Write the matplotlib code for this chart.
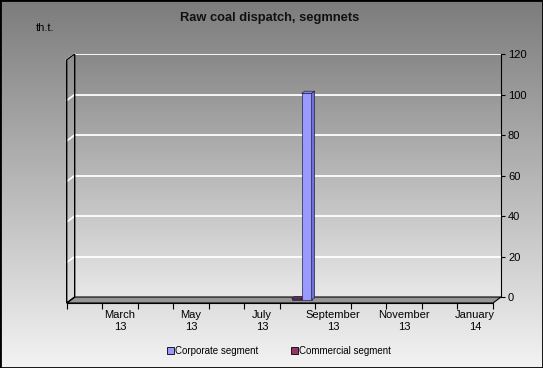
import matplotlib
matplotlib.use("Agg")
import matplotlib.pyplot as plt
import numpy as np
from matplotlib.colors import LinearSegmentedColormap
from matplotlib.patches import Polygon, Rectangle, Patch

plt.rcParams['font.family'] = ['Liberation Sans', 'DejaVu Sans']

# Data: Feb 13 .. Jan 14
months = ['February', 'March', 'April', 'May', 'June', 'July', 'August',
          'September', 'October', 'November', 'December', 'January']
years = ['13', '13', '13', '13', '13', '13', '13', '13', '13', '13', '13', '14']
corporate = [0, 0, 0, 0, 0, 0, 102, 0, 0, 0, 0, 0]
commercial = [0, 0, 0, 0, 0, 0, 0.6, 0, 0, 0, 0, 0]
series_names = ['Corporate segment', 'Commercial segment']
series_colors = ['#9999ff', '#993366']
side_colors = ['#7070d8', '#6e2249']
top_colors = ['#8585ee', '#80294f']
yticks = [0, 20, 40, 60, 80, 100, 120]

n = len(months)
DX = 0.225      # depth offset in category units
DY = 2.96       # depth offset in value units
F0, F1 = 0.5, 0.875
W = 0.28

fig = plt.figure(figsize=(5.43, 3.68), dpi=100)

# background gradient
bg = fig.add_axes([0, 0, 1, 1], zorder=-10)
bg.axis('off')
grad = np.linspace(0, 1, 256).reshape(-1, 1)
bg_cmap = LinearSegmentedColormap.from_list('bg', ['#7c7c7c', '#f3f3f3'])
bg.imshow(grad, cmap=bg_cmap, aspect='auto', extent=[0, 1, 0, 1])

ax = fig.add_axes([66.7 / 543, (368 - 303) / 368, (501 - 66.7) / 543, (303 - 54) / 368])
ax.patch.set_visible(False)

# back wall
wall_cmap = LinearSegmentedColormap.from_list('wall', ['#888888', '#e8e8e8'])
ax.imshow(grad, cmap=wall_cmap, aspect='auto', extent=[DX, n + DX, 0, 120], zorder=0)
ax.hlines(yticks[1:], DX, n + DX, colors='white', lw=1.3, zorder=1)
# gridlines on the side wall
for v in yticks[1:]:
    ax.plot([0, DX], [v - DY, v], color='white', lw=1.3, zorder=1, clip_on=False)

# floor and left wall
ax.add_patch(Polygon([(0, -DY), (n, -DY), (n + DX, 0), (DX, 0)],
                     fc='#959595', ec='black', lw=0.8, zorder=2, clip_on=False))
ax.add_patch(Polygon([(0, -DY), (DX, 0), (DX, 120), (0, 120 - DY)],
                     fc='none', ec='black', lw=1.0, zorder=2, clip_on=False))


def draw_bar(x0, v, k):
    fx = x0 + F0 * DX
    fy = -DY * (1 - F0)
    ddx = (F1 - F0) * DX
    ddy = (F1 - F0) * DY
    ax.bar(fx, v, width=W, bottom=fy, align='edge', color=series_colors[k],
           edgecolor='#222244', lw=0.5, zorder=4)
    top = [(fx, fy + v), (fx + W, fy + v), (fx + W + ddx, fy + v + ddy), (fx + ddx, fy + v + ddy)]
    side = [(fx + W, fy), (fx + W + ddx, fy + ddy), (fx + W + ddx, fy + v + ddy), (fx + W, fy + v)]
    ax.add_patch(Polygon(top, fc=top_colors[k], ec='#222244', lw=0.5, zorder=4))
    ax.add_patch(Polygon(side, fc=side_colors[k], ec='#222244', lw=0.5, zorder=4))


for i in range(n):
    if commercial[i] > 0:
        draw_bar(i + 0.5 - W, commercial[i], 1)
    if corporate[i] > 0:
        draw_bar(i + 0.5, corporate[i], 0)

ax.set_xlim(0, n + DX)
ax.set_ylim(-DY, 120)

for s in ['top', 'left']:
    ax.spines[s].set_visible(False)
ax.spines['bottom'].set_bounds(0, n)
ax.spines['right'].set_bounds(0, 120)
ax.spines['bottom'].set_linewidth(0.8)
ax.spines['right'].set_linewidth(0.8)

ax.yaxis.tick_right()
ax.set_yticks(yticks)
ax.tick_params(axis='y', direction='out', length=3, labelsize=8, pad=2)

ax.set_xticks(np.arange(n + 1))
ax.set_xticklabels([])
ax.set_xticks(np.arange(n)[1::2] + 0.5, minor=True)
ax.set_xticklabels([m + '\n' + y for m, y in zip(months[1::2], years[1::2])], minor=True)
ax.tick_params(axis='x', which='major', direction='out', length=4)
ax.tick_params(axis='x', which='minor', length=0, labelsize=8, pad=5)
for lbl in ax.get_xticklabels(minor=True):
    lbl.set_linespacing(1.3)

fig.text(270 / 543, 1 - 18 / 368, 'Raw coal dispatch, segmnets', ha='center', va='center',
         fontsize=9.3, fontweight='bold', color='#111111')
fig.text(36 / 543, 1 - 28 / 368, 'th.t.', ha='left', va='center', fontsize=8)

handles = [Patch(fc=c, ec='black', lw=0.6) for c in series_colors]
fig.legend(handles, series_names, loc='center', bbox_to_anchor=(279 / 543, 1 - 351 / 368),
           ncol=2, frameon=False, fontsize=7, handlelength=0.7, handleheight=0.7,
           handletextpad=0.15, columnspacing=3.3)

fig.add_artist(Rectangle((0, 0), 1, 1, transform=fig.transFigure, fill=False,
                         ec='black', lw=2))

fig.savefig('out.png', dpi=100)
